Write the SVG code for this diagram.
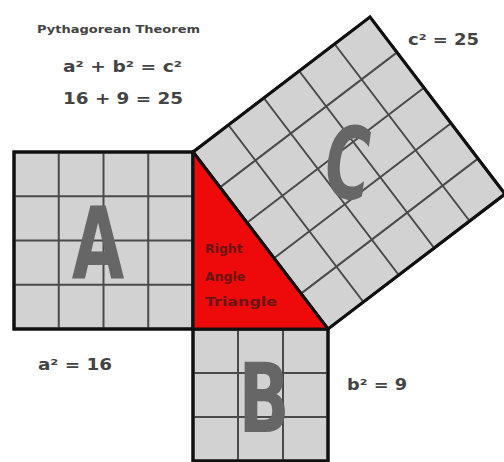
<svg xmlns="http://www.w3.org/2000/svg" width="504" height="462" viewBox="0 0 504 462">
<style>
.sq{fill:#d2d2d2;stroke:#111;stroke-width:3}
.grid{stroke:#4a4a4a;stroke-width:2;fill:none}
.big{font-family:"DejaVu Sans",sans-serif;font-weight:bold;fill:#666}
.lbl{font-family:"DejaVu Sans",sans-serif;font-weight:bold;fill:#444}
.tri{font-family:"DejaVu Sans",sans-serif;font-weight:bold;fill:#6a1414;font-size:12.5px}
</style>
<rect width="504" height="462" fill="#fff"/>
<g id="title">
<text class="lbl" x="37" y="33" font-size="10.5" textLength="163" lengthAdjust="spacingAndGlyphs">Pythagorean Theorem</text>
<text class="lbl" x="63" y="72" font-size="16" textLength="119" lengthAdjust="spacingAndGlyphs">a² + b² = c²</text>
<text class="lbl" x="63" y="104" font-size="16" textLength="120" lengthAdjust="spacingAndGlyphs">16 + 9 = 25</text>
</g>
<g id="squareA">
<rect class="sq" x="14" y="152" width="179" height="177"/>
<path class="grid" d="M58.75 152V329M103.5 152V329M148.25 152V329M14 196.25H193M14 240.5H193M14 284.75H193"/>
<rect x="14" y="152" width="179" height="177" fill="none" stroke="#111" stroke-width="3"/>
<text class="big" x="98" y="278" font-size="100" text-anchor="middle" transform="translate(98 0) scale(0.68 1) translate(-98 0)">A</text>
</g>
<g id="squareB">
<rect class="sq" x="193" y="329" width="135" height="132"/>
<path class="grid" d="M238 329V461M283 329V461M193 373H328M193 417H328"/>
<rect x="193" y="329" width="135" height="132" fill="none" stroke="#111" stroke-width="3"/>
<text class="big" x="264" y="432" font-size="96" text-anchor="middle" transform="translate(264 0) scale(0.7 1) translate(-264 0)">B</text>
</g>
<g id="squareC">
<g transform="translate(193 152) rotate(52.67)">
<rect class="sq" x="0" y="-222.6" width="222.6" height="222.6"/>
<path class="grid" d="M44.52 0V-222.6M89.04 0V-222.6M133.56 0V-222.6M178.08 0V-222.6M0 -44.52H222.6M0 -89.04H222.6M0 -133.56H222.6M0 -178.08H222.6"/>
<rect x="0" y="-222.6" width="222.6" height="222.6" fill="none" stroke="#111" stroke-width="3"/>
</g>
<text class="big" x="348" y="198" font-size="100" text-anchor="middle" transform="rotate(8 348 160) translate(348 0) scale(0.62 1) translate(-348 0)">C</text>
</g>
<g id="triangle">
<polygon points="193,152 193,329 328,329" fill="#ee0a0a" stroke="#111" stroke-width="3" stroke-linejoin="round"/>
<text class="tri" x="205" y="253">Right</text>
<text class="tri" x="205" y="281">Angle</text>
<text class="tri" x="205" y="306" textLength="72" lengthAdjust="spacingAndGlyphs">Triangle</text>
</g>
<g id="labels">
<text class="lbl" x="408" y="45" font-size="16" textLength="71" lengthAdjust="spacingAndGlyphs">c² = 25</text>
<text class="lbl" x="38" y="370" font-size="16" textLength="74" lengthAdjust="spacingAndGlyphs">a² = 16</text>
<text class="lbl" x="347" y="390" font-size="15" textLength="60" lengthAdjust="spacingAndGlyphs">b² = 9</text>
</g>
<g id="connectors"></g>
</svg>
